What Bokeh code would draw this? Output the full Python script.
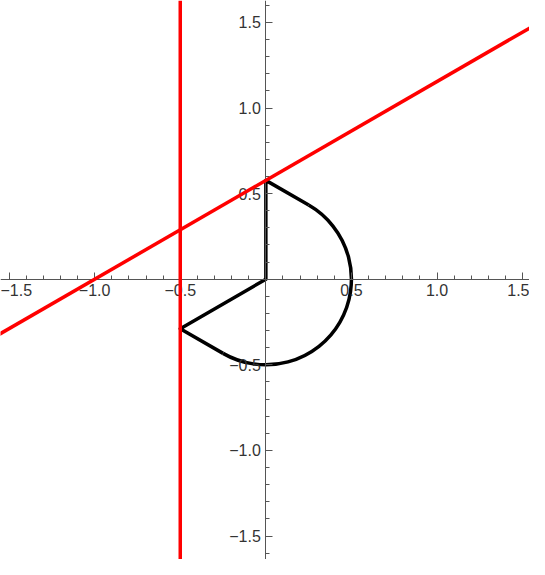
import math
from bokeh.plotting import figure
from bokeh.models import (LinearAxis, FixedTicker, CustomJSTickFormatter, Range1d,
                          Slope, Span)
from bokeh.embed import file_html
from bokeh.resources import INLINE

# ---- data ----
# black outline: straight parts (polyline) and circular arc
poly_x = [-0.25, -0.5, 0.0, 0.0, 0.25]
poly_y = [-0.433, -0.2887, 0.0, 0.5774, 0.433]
arc_center = (0.0, 0.0)
arc_radius = 0.5
arc_start_deg = 60
arc_end_deg = -120

# red lines
red_slope = 0.5774
red_intercept = 0.5774
red_vertical_x = -0.5

major_ticks = [-1.5, -1.0, -0.5, 0.5, 1.0, 1.5]
minor_ticks = [round(-1.6 + 0.1 * i, 1) for i in range(33)]

# ---- figure ----
p = figure(width=529, height=559, output_backend="svg", toolbar_location=None,
           x_range=Range1d(-1.550, 1.540), y_range=Range1d(-1.637, 1.628),
           x_axis_location=None, y_axis_location=None, min_border=0,
           background_fill_color="white", border_fill_color="white")
p.outline_line_color = None
p.grid.visible = False

fmt = CustomJSTickFormatter(code="""
    return (tick < 0 ? "\\u2212" : "") + Math.abs(tick).toFixed(1);
""")

def style_axis(ax):
    ax.fixed_location = 0
    ax.ticker = FixedTicker(ticks=major_ticks, minor_ticks=minor_ticks)
    ax.formatter = fmt
    ax.axis_line_color = "#555555"
    ax.axis_line_width = 1
    ax.major_tick_line_color = "#555555"
    ax.minor_tick_line_color = "#555555"
    ax.major_tick_in = 7
    ax.major_tick_out = 0
    ax.minor_tick_in = 4
    ax.minor_tick_out = 0
    ax.major_label_text_font = "Liberation Sans"
    ax.major_label_text_font_size = "16px"
    ax.major_label_text_color = "#333333"

xax = LinearAxis()
style_axis(xax)
xax.major_label_standoff = 5
p.add_layout(xax, "below")

yax = LinearAxis()
style_axis(yax)
yax.major_label_standoff = 5
p.add_layout(yax, "left")

# red lines
p.add_layout(Slope(gradient=red_slope, y_intercept=red_intercept,
                   line_color="#ff0000", line_width=3.5))
p.add_layout(Span(location=red_vertical_x, dimension="height",
                  line_color="#ff0000", line_width=3.5))

# black shape
p.line(poly_x, poly_y, line_color="black", line_width=3.5, line_join="round")
p.arc(x=[arc_center[0]], y=[arc_center[1]], radius=arc_radius,
      start_angle=math.radians(arc_start_deg), end_angle=math.radians(arc_end_deg),
      direction="clock", line_color="black", line_width=3.5)

open("out.html", "w").write(file_html(p, INLINE))
